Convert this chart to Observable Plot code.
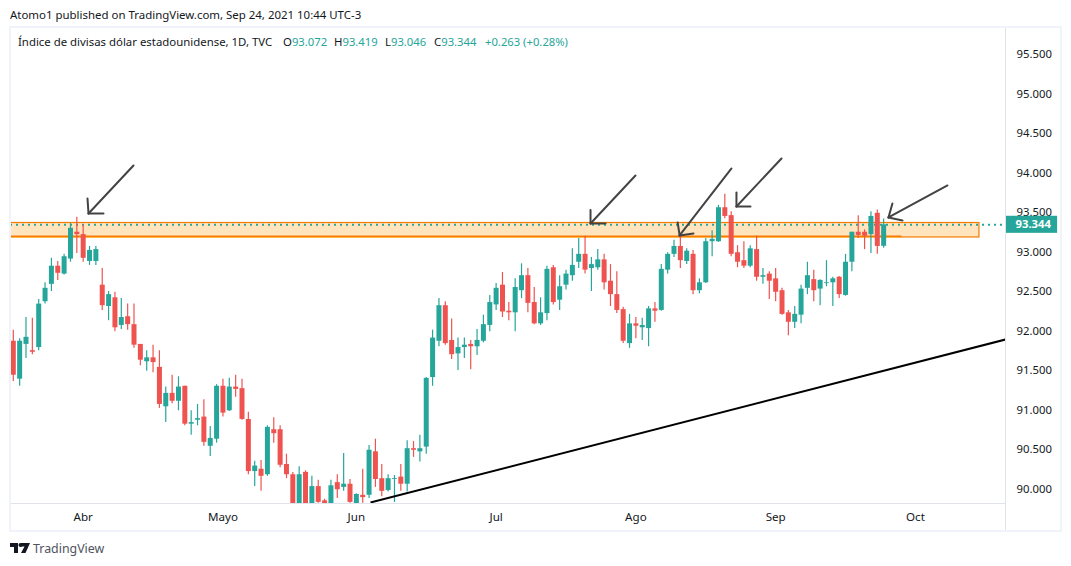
<!DOCTYPE html>
<html><head><meta charset="utf-8">
<script src="https://cdn.jsdelivr.net/npm/d3@7"></script>
<script src="https://cdn.jsdelivr.net/npm/@observablehq/plot@0.6"></script>
<style>
html,body{margin:0;padding:0;background:#fff;width:1071px;height:566px;overflow:hidden;font-family:"Noto Sans",sans-serif;color:#131722}
#head{height:26px;line-height:30px;font-size:11.45px;padding-left:10px;box-sizing:border-box;white-space:nowrap}
#wrap{position:relative;height:506px}
#wrap svg{display:block}
.ln{position:absolute}
.lg{position:absolute;top:8px;font-size:11.4px;white-space:nowrap}
.lg b{font-weight:400;color:#26a69a;font-size:11.25px}
#foot{height:32px;display:flex;align-items:center;padding-left:10px;font-size:12.4px;color:#50535e}
#foot svg{margin-right:3px}
</style></head><body>
<div id="head">Atomo1 published on TradingView.com, Sep 24, 2021 10:44 UTC-3</div>
<div id="wrap"></div>
<div id="foot"><svg width="20" height="10" viewBox="0 0 20 10"><path fill="#131722" d="M0 0H8V10H4V4H0ZM11 0H20L15.5 10H11L14.5 3.5H11Z"/><circle cx="10.5" cy="2" r="2" fill="#131722"/></svg><span>TradingView</span></div>
<script>
const open = [91.87,91.39,91.83,91.75,91.79,92.37,92.59,92.82,92.72,92.91,93.25,93.22,92.88,92.88,92.58,92.31,92.42,92.07,92.18,92.08,91.83,91.61,91.66,91.54,91.04,91.21,91.11,91.30,90.82,90.87,90.91,90.54,90.63,91.30,90.99,91.29,91.27,90.88,90.22,90.25,90.18,90.75,90.75,90.31,90.18,89.78,90.21,89.76,90.03,89.85,89.80,90.08,90.02,90.06,89.80,89.92,89.92,90.47,90.13,89.98,90.12,90.15,90.06,90.51,90.47,90.53,91.41,91.87,92.32,91.88,91.71,91.79,91.83,91.80,91.87,92.07,92.33,92.58,92.25,92.23,92.51,92.70,92.36,92.09,92.22,92.80,92.39,92.58,92.70,92.87,92.97,92.79,92.80,92.90,92.63,92.46,92.27,91.84,92.09,92.04,92.03,92.28,92.26,92.77,92.97,93.07,92.88,92.97,92.51,92.61,93.13,93.13,93.56,93.46,92.99,92.89,92.82,93.03,92.68,92.72,92.66,92.51,92.23,92.11,92.20,92.54,92.65,92.53,92.60,92.61,92.68,92.45,92.87,93.25,93.25,93.22,93.49,93.072];
const high = [92.01,91.90,92.17,92.16,92.40,92.61,92.92,92.88,92.97,93.36,93.44,93.34,93.07,93.07,92.79,92.50,92.49,92.41,92.34,92.34,91.83,91.75,91.82,91.75,91.29,91.44,91.42,91.30,90.99,91.07,91.13,90.79,91.32,91.39,91.40,91.44,91.39,90.97,90.35,90.36,90.80,90.90,90.80,90.44,90.21,90.28,90.23,90.16,90.11,89.87,90.11,90.18,90.45,90.12,89.94,90.25,90.55,90.63,90.31,90.18,90.17,90.31,90.61,90.60,90.68,91.41,92.01,92.41,92.37,92.15,91.91,91.91,91.88,92.02,92.20,92.45,92.60,92.74,92.36,92.66,92.85,92.79,92.55,92.42,92.82,92.83,92.70,92.77,93.04,93.17,93.20,92.93,93.03,92.97,92.84,92.75,92.30,92.21,92.17,92.16,92.31,92.36,92.84,92.99,93.15,93.20,93.04,93.02,92.66,93.17,93.27,93.59,93.73,93.51,93.08,93.13,93.08,93.20,92.79,92.75,92.79,92.54,92.26,92.31,92.58,92.87,92.77,92.65,92.89,92.68,92.69,92.97,93.25,93.46,93.28,93.51,93.53,93.419];
const low = [91.36,91.30,91.65,91.70,91.75,92.34,92.50,92.64,92.71,92.87,92.98,92.87,92.83,92.83,92.26,92.13,91.99,92.02,92.01,91.78,91.56,91.49,91.47,91.02,90.84,91.08,90.99,90.80,90.68,90.80,90.54,90.41,90.58,90.91,90.98,91.16,90.87,90.18,90.03,89.97,90.16,90.58,90.27,90.13,89.75,89.72,89.70,89.70,89.82,89.75,89.75,89.88,89.97,89.82,89.78,89.82,89.88,90.02,89.90,89.96,89.83,89.97,89.96,90.40,90.34,90.44,91.30,91.80,91.82,91.64,91.50,91.65,91.51,91.69,91.85,91.99,92.26,92.17,92.13,91.99,92.41,92.23,92.08,92.07,92.13,92.33,92.26,92.52,92.63,92.79,92.72,92.50,92.77,92.52,92.31,92.22,91.84,91.78,91.90,91.88,91.80,92.11,92.25,92.72,92.93,92.79,92.84,92.46,92.47,92.60,92.94,93.12,93.42,92.94,92.80,92.79,92.80,92.63,92.59,92.40,92.37,92.20,91.94,92.03,92.09,92.46,92.37,92.32,92.56,92.31,92.41,92.44,92.75,93.17,93.03,92.98,92.97,93.046];
const close = [91.44,91.87,91.92,91.73,92.34,92.54,92.82,92.73,92.94,93.30,93.22,92.92,93.02,93.03,92.32,92.46,92.04,92.17,92.08,91.82,91.63,91.66,91.60,91.07,91.21,91.11,91.29,90.82,90.84,90.89,90.59,90.64,91.30,90.96,91.29,91.26,90.88,90.22,90.29,90.16,90.78,90.70,90.30,90.18,89.78,90.18,89.75,90.03,89.83,89.78,90.04,89.99,90.06,89.83,89.93,89.89,90.49,90.12,89.97,90.13,90.13,90.06,90.51,90.49,90.51,91.40,91.91,92.32,91.84,91.70,91.79,91.82,91.80,91.88,92.08,92.36,92.54,92.24,92.23,92.55,92.70,92.35,92.09,92.23,92.78,92.36,92.56,92.72,92.83,92.97,92.77,92.84,92.90,92.61,92.46,92.26,91.87,92.09,92.06,92.07,92.28,92.25,92.78,92.97,93.07,92.89,93.01,92.51,92.61,93.13,93.16,93.56,93.45,92.97,92.87,92.82,93.04,92.68,92.70,92.63,92.49,92.21,92.11,92.21,92.53,92.70,92.51,92.64,92.61,92.66,92.46,92.87,93.25,93.21,93.20,93.45,93.07,93.344];

const tickIndex = [11,33,54,76,98,120,142];
const tickLabels = ["Abr","Mayo","Jun","Jul","Ago","Sep","Oct"];
const priceTicks = [90,90.5,91,91.5,92,92.5,93,93.5,94,94.5,95,95.5];
const lastPrice = 93.344;
const xDomain = [-0.44,156.18];
const yDomain = [89.816,95.829];
const zone = {top:93.367,bottom:93.184,end:152.08};
const zoneLine = {price:93.196,end:139.88};
const trend = {x1:56.23,y1:89.829,x2:156.18,y2:91.892};
// [x1,y1,x2,y2] in bar index and price
const arrows = [
 [18.92,94.095,11.84,93.487],[11.68,93.677,11.84,93.487],[14.2,93.487,11.84,93.487],
 [97.94,93.968,90.86,93.361],[90.86,93.532,90.86,93.361],[93.22,93.361,90.86,93.361],
 [113.05,94.057,104.88,93.209],[104.58,93.373,104.88,93.209],[107.07,93.234,104.88,93.209],
 [120.92,94.184,113.83,93.576],[113.83,93.753,113.83,93.576],[116.04,93.576,113.83,93.576],
 [147.05,93.842,137.76,93.437],[138.38,93.614,137.76,93.437],[139.97,93.399,137.76,93.437]
];
const legendLabels = ["Índice de divisas dólar estadounidense, 1D, TVC","O","H","L","C",""];
const legendValues = ["","93.072","93.419","93.046","93.344","+0.263 (+0.28%)"];

const GREEN="#26a69a", RED="#ef5350";
const bars = open.map((o,i)=>({i,o,h:high[i],l:low[i],c:close[i]}));
const col = d=>d.c>=d.o?GREEN:RED;
const labelFmt = new Map(tickIndex.map((t,k)=>[t,tickLabels[k]]));

const chart = Plot.plot({
  width:1071,height:506,
  marginLeft:10,marginRight:66,marginTop:2,marginBottom:29,
  style:{background:"transparent",fontFamily:"'Noto Sans',sans-serif",fontSize:"11.3px",color:"#131722"},
  x:{type:"linear",domain:xDomain,label:null},
  y:{type:"linear",domain:yDomain,label:null},
  marks:[
    Plot.rect([zone],{x1:xDomain[0],x2:d=>d.end,y1:d=>d.bottom,y2:d=>d.top,fill:"#ff9800",fillOpacity:.26,stroke:"#f57c00",strokeWidth:1.2}),
    Plot.ruleY([zoneLine],{x1:xDomain[0],x2:d=>d.end,y:d=>d.price,stroke:"#f57c00",strokeWidth:2}),
    Plot.ruleY([zoneLine],{x1:xDomain[0],x2:d=>d.end,y:d=>d.price-0.013,stroke:"#ffb74d",strokeWidth:1}),
    Plot.ruleY([lastPrice],{x1:xDomain[0],x2:xDomain[1],stroke:GREEN,strokeWidth:2,strokeDasharray:"2 4"}),
    Plot.ruleX(bars,{x:"i",y1:"l",y2:"h",stroke:col,strokeWidth:1.2,clip:true}),
    Plot.ruleX(bars,{x:"i",y1:"o",y2:"c",stroke:col,strokeWidth:5,clip:true}),
    Plot.link([trend],{x1:"x1",y1:"y1",x2:"x2",y2:"y2",stroke:"#000",strokeWidth:2,clip:true}),
    Plot.link(arrows,{x1:d=>d[0],y1:d=>d[1],x2:d=>d[2],y2:d=>d[3],stroke:"#434343",strokeWidth:2,strokeLinecap:"round"}),
    Plot.axisY({anchor:"right",ticks:priceTicks,tickSize:0,tickPadding:11,tickFormat:d3.format(".3f"),label:null,fontSize:11.3,fill:"#131722"}),
    Plot.axisX({ticks:tickIndex,tickSize:0,tickPadding:9,tickFormat:d=>labelFmt.get(d),label:null,fontSize:11.6,fill:"#131722"}),
    Plot.rect([lastPrice],{x1:xDomain[1],x2:164.38,y1:d=>d-0.108,y2:d=>d+0.108,fill:GREEN}),
    Plot.text([lastPrice],{x:xDomain[1],y:d=>d,text:d=>d3.format(".3f")(d),textAnchor:"start",dx:10,fill:"#fff",fontWeight:700,fontSize:11.3})
  ]
});
const wrap=document.getElementById("wrap");
wrap.appendChild(chart);
function ln(l,t,w,h,c){const e=document.createElement("div");e.className="ln";e.style.cssText=`left:${l}px;top:${t}px;width:${w}px;height:${h}px;background:${c}`;wrap.appendChild(e);}
const OUT="#f0f3fa",IN="#e0e3eb";
ln(1004.5,0,1.2,504,IN);ln(10,476.6,995,1.2,IN);
ln(9,0,1053,2,OUT);ln(9,504,1053,2,OUT);ln(9,0,2,506,OUT);ln(1060,0,2,506,OUT);
const lefts=[18,283,334,385,434,485];
legendLabels.forEach((t,k)=>{const e=document.createElement("div");e.className="lg";e.style.left=lefts[k]+"px";
  e.append(t);const b=document.createElement("b");b.textContent=legendValues[k];e.appendChild(b);wrap.appendChild(e);});
</script>
</body></html>
